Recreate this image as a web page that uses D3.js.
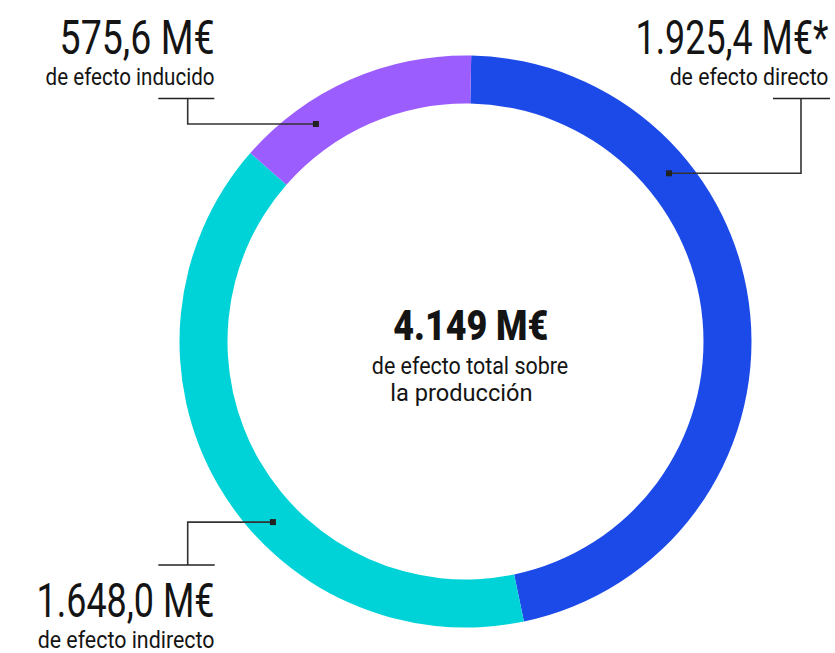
<!DOCTYPE html>
<html>
<head>
<meta charset="utf-8">
<script src="https://cdn.jsdelivr.net/npm/d3@7"></script>
<style>
  html, body { margin: 0; padding: 0; background: #fff; }
  svg { display: block; }
  text { font-family: Roboto, "Liberation Sans", "DejaVu Sans", sans-serif; fill: #141414; }
</style>
</head>
<body>
<svg id="chart" width="835" height="653"></svg>
<script>
// Economic impact on production, in millions of euros
const categories = ["directo", "indirecto", "inducido"];
const values = [1925.4, 1648.0, 575.6];
const colors = ["#1c4ae8", "#00d3d8", "#9b5dfd"];
const subtitles = ["de efecto directo", "de efecto indirecto", "de efecto inducido"];
const suffixes = ["*", "", ""];
const totalLines = ["de efecto total sobre", "la producción"];

const es = d3.formatLocale({ decimal: ",", thousands: ".", grouping: [3], currency: ["", " €"] });
const fmt1 = es.format(",.1f");
const fmt0 = es.format(",.0f");

const svg = d3.select("#chart");
const cx = 465.5, cy = 341.5;
const rOuter = 286, rInner = 238;
const rot = 0.02; // slight clockwise offset of the ring

const pie = d3.pie().sort(null).value(d => d)
  .startAngle(rot).endAngle(2 * Math.PI + rot);
const arc = d3.arc().innerRadius(rInner).outerRadius(rOuter);
const arcs = pie(values);

const g = svg.append("g").attr("transform", `translate(${cx},${cy})`);
g.selectAll("path.slice")
  .data(arcs)
  .join("path")
  .attr("class", "slice")
  .attr("d", arc)
  .attr("fill", (d, i) => colors[i]);

// Condensed text: draw at natural width, then squeeze horizontally to the wanted width
function condensedText(parent, str, x, y, anchor, size, weight, width) {
  const t = parent.append("text")
    .attr("text-anchor", anchor)
    .attr("font-size", size)
    .attr("font-weight", weight)
    .text(str);
  const natural = t.node().getComputedTextLength();
  const sx = width / natural;
  t.attr("transform", `translate(${x},${y}) scale(${sx},1)`);
  return t;
}

// label layout: leader anchor position inside the slice, text block placement
const layout = [
  { t: 0.295, textX: 828.5, valueY: 54, subY: 85, lineY: 98.5, lineX0: 773, lineX1: 830, elbowX: 801, vW: 193, sW: 159 },
  { t: 0.41, textX: 214.5, valueY: 617, subY: 648, lineY: 565, lineX0: 158.3, lineX1: 214.7, elbowX: 187.7, vW: 178, sW: 177 },
  { t: 0.286, textX: 214.5, valueY: 54, subY: 85, lineY: 98.5, lineX0: 158.3, lineX1: 214.3, elbowX: 187.7, vW: 155, sW: 169 }
];

const rMid = (rOuter + rInner) / 2 + 2;
const labels = svg.append("g");
arcs.forEach((a, i) => {
  const L = layout[i];
  const ang = a.startAngle + (a.endAngle - a.startAngle) * L.t;
  const px = cx + rMid * Math.sin(ang);
  const py = cy - rMid * Math.cos(ang);

  const path = d3.path();
  path.moveTo(px, py);
  path.lineTo(L.elbowX, py);
  path.lineTo(L.elbowX, L.lineY);
  labels.append("path").attr("d", path.toString())
    .attr("fill", "none").attr("stroke", "#333").attr("stroke-width", 1.6);
  labels.append("line")
    .attr("x1", L.lineX0).attr("x2", L.lineX1)
    .attr("y1", L.lineY).attr("y2", L.lineY)
    .attr("stroke", "#222").attr("stroke-width", 1.6);
  labels.append("rect")
    .attr("x", px - 3).attr("y", py - 3)
    .attr("width", 6).attr("height", 6)
    .attr("fill", "#222");

  condensedText(labels, fmt1(values[i]) + " M€" + suffixes[i], L.textX, L.valueY, "end", 48, 400, L.vW);
  condensedText(labels, subtitles[i], L.textX, L.subY, "end", 24, 400, L.sW);
});

// total in the middle of the ring
const total = d3.sum(values);
const center = svg.append("g");
condensedText(center, fmt0(total) + " M€", 470.8, 339.5, "middle", 42, 900, 155);
condensedText(center, totalLines[0], 470, 373.5, "middle", 23, 400, 196.5);
condensedText(center, totalLines[1], 461.4, 400.5, "middle", 23, 400, 142.5);
</script>
</body>
</html>
